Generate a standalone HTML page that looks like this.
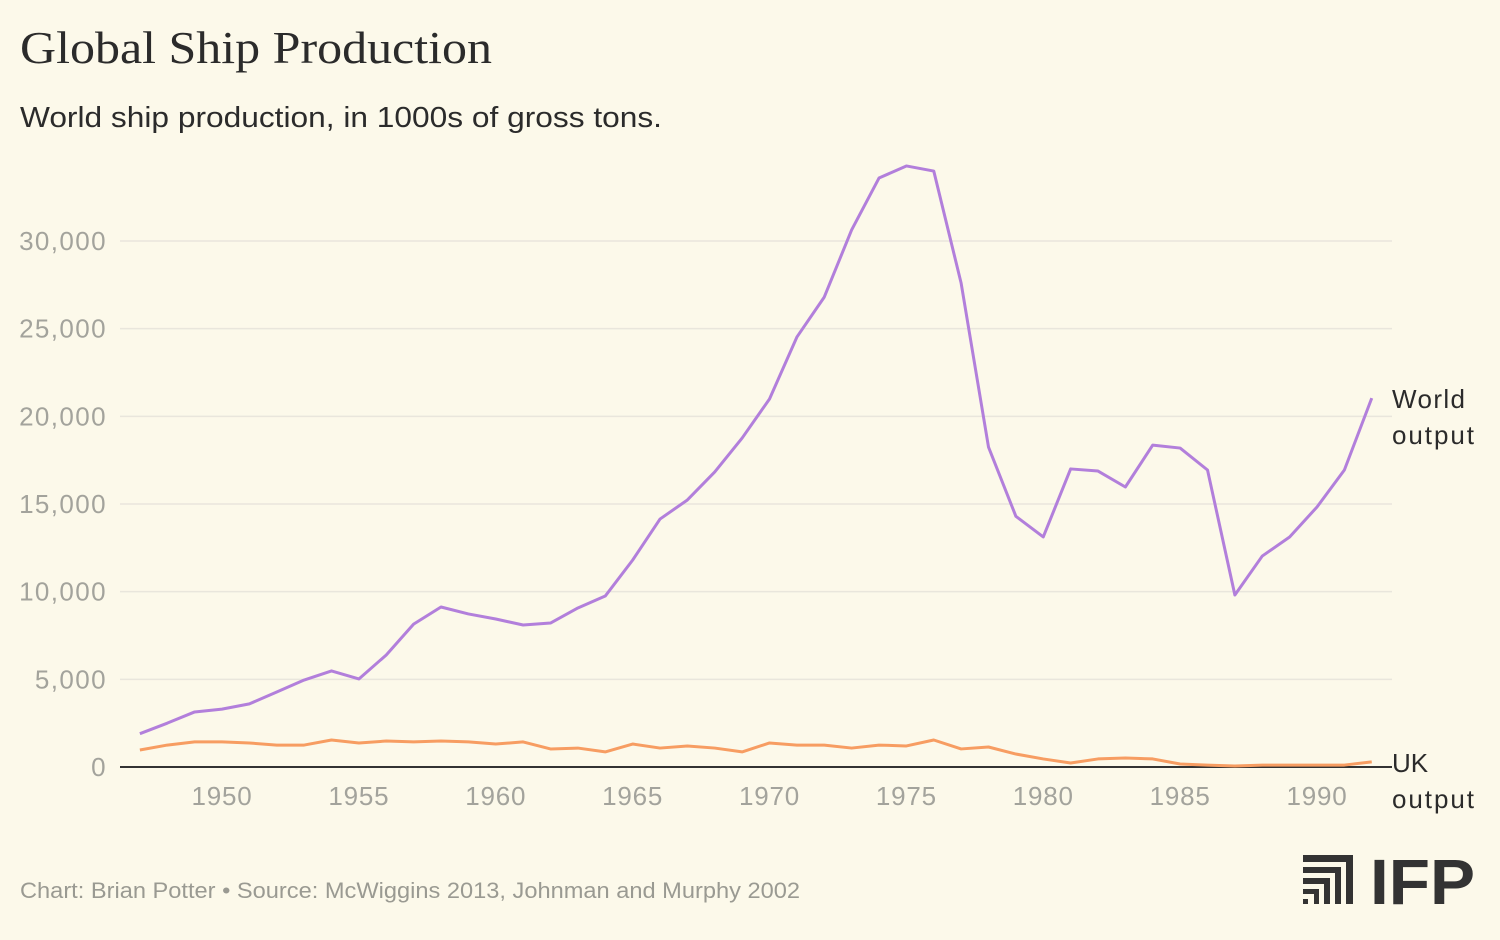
<!DOCTYPE html>
<html><head><meta charset="utf-8"><style>
body{margin:0;background:#fcf9ea;font-family:"Liberation Sans",sans-serif;}
svg{display:block}
</style></head><body>
<svg width="1500" height="940">
<rect width="1500" height="940" fill="#fcf9ea"/>
<text x="20" y="63" font-family="Liberation Serif,serif" font-size="46" textLength="472" lengthAdjust="spacingAndGlyphs" fill="#2b2b2b">Global Ship Production</text>
<text x="20" y="127" font-size="29" textLength="642" lengthAdjust="spacingAndGlyphs" fill="#2b2b2b">World ship production, in 1000s of gross tons.</text>
<g id="grid"></g><g id="xt"></g><g id="lines"></g>
<text x="1392" y="408" font-size="26" textLength="73" fill="#2b2b2b">World</text>
<text x="1392" y="444" font-size="26" textLength="82" fill="#2b2b2b">output</text>
<text x="1392" y="772" font-size="26" fill="#2b2b2b">UK</text>
<text x="1392" y="808" font-size="26" textLength="82" fill="#2b2b2b">output</text>
<text x="20" y="898" font-size="22" textLength="780" lengthAdjust="spacingAndGlyphs" fill="#9a9a92">Chart: Brian Potter • Source: McWiggins 2013, Johnman and Murphy 2002</text>
<g fill="#333">
<rect x="1303" y="855" width="50" height="7"/><rect x="1346" y="855" width="7" height="49"/>
<rect x="1303" y="867" width="38" height="6"/><rect x="1335" y="867" width="6" height="37"/>
<rect x="1303" y="878" width="27" height="6"/><rect x="1324" y="878" width="6" height="26"/>
<rect x="1303" y="889" width="16" height="5"/><rect x="1314" y="889" width="5" height="15"/>
<rect x="1303" y="899" width="5" height="5"/>
<text x="1370" y="904" font-size="64" font-weight="bold" textLength="105" lengthAdjust="spacingAndGlyphs">IFP</text>
</g>
</svg>
<script>
const years=[];for(let y=1947;y<=1992;y++)years.push(y);
const worldValues=[1900,2500,3140,3300,3600,4280,4960,5480,5020,6390,8150,9125,8730,8440,8100,8210,9070,9750,11800,14140,15230,16830,18760,20990,24520,26800,30630,33590,34280,33990,27600,18250,14300,13120,17000,16880,15970,18360,18190,16940,9810,12030,13120,14830,16940,21040];
const ukValues=[970,1250,1430,1430,1370,1250,1250,1540,1370,1480,1430,1480,1430,1310,1430,1030,1080,860,1310,1080,1200,1080,860,1370,1250,1250,1080,1250,1200,1540,1030,1140,740,460,230,460,510,460,170,110,60,110,110,110,110,290];
const yTicks=[0,5000,10000,15000,20000,25000,30000];
const xTicks=[1950,1955,1960,1965,1970,1975,1980,1985,1990];
const NS="http://www.w3.org/2000/svg";
const xs=y=>222+(y-1950)*27.375, ys=v=>767-v*526/30000;
function mk(t,a,p){const e=document.createElementNS(NS,t);for(const k in a)e.setAttribute(k,a[k]);document.getElementById(p).appendChild(e);return e;}
yTicks.forEach(v=>{
 const l=mk('line',{x1:120,x2:1392,y1:ys(v),y2:ys(v),stroke:v?'#e9e6dc':'#333','stroke-width':v?1.5:2},'grid');
 
 
 const t=mk('text',{x:107,y:ys(v)+9,'text-anchor':'end','font-size':26,fill:'#a3a39c','letter-spacing':1.4},'grid');
 t.textContent=v.toLocaleString('en-US');
 
 
});
xTicks.forEach(y=>{
 const t=mk('text',{x:xs(y),y:805,'text-anchor':'middle','font-size':26,fill:'#a3a39c','letter-spacing':0.8},'xt');
 t.textContent=y;
 
 
});
[[worldValues,'#b27fdb','world-line'],[ukValues,'#f79d62','uk-line']].forEach(([d,c,n])=>{
 const p=mk('polyline',{points:d.map((v,i)=>xs(years[i])+','+ys(v)).join(' '),fill:'none',stroke:c,'stroke-width':3,'stroke-linejoin':'round'},'lines');
 
 
});
</script>
</body></html>
